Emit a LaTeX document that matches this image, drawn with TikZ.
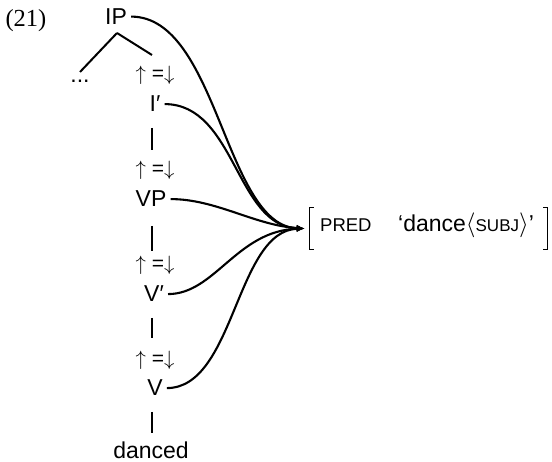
\documentclass[tikz,border=0pt]{standalone}
\usepackage{fontspec}
\setsansfont{Liberation Sans}
\newfontfamily\numfont{Liberation Serif}
\usetikzlibrary{arrows.meta}
\begin{document}
\begin{tikzpicture}[x=1pt,y=-1pt,
  lab/.style={font=\sffamily\fontsize{23}{27}\selectfont, inner sep=0pt, anchor=base},
  eqn/.style={font=\sffamily\fontsize{21}{24}\selectfont, inner sep=0pt, anchor=base},
  bar/.style={line width=2.6pt},
  branch/.style={line width=2pt},
  link/.style={line width=2.1pt, shorten <=4pt, -{Latex[length=8pt,width=6.5pt]}},
  brk/.style={line width=0.9pt}
]
\useasboundingbox (0,0) rectangle (552,462);
% example number
\node[font=\numfont\fontsize{24.5}{28}\selectfont, inner sep=0pt, anchor=base] (num) at (26,27) {(21)};
% tree
\node[lab] (IP) at (116,24.5) {IP};
\coordinate (apex) at (117,33);
\coordinate (lb) at (80,72);
\coordinate (rb) at (152,55);
\draw[branch] (apex) -- (lb);
\draw[branch] (apex) -- (rb);
\node[lab] (dots) at (80,83) {...};
\newcommand{\eqann}{$\uparrow$\;=$\downarrow$}
\node[eqn] (eq1) at (155,81) {\eqann};
\node[lab] (I1) at (155,112) {I′};
\coordinate (b1t) at (152,128); \coordinate (b1b) at (152,150);
\draw[bar] (b1t) -- (b1b);
\node[eqn] (eq2) at (155,176) {\eqann};
\node[lab] (VP) at (151,207) {VP};
\coordinate (b2t) at (152,226); \coordinate (b2b) at (152,251);
\draw[bar] (b2t) -- (b2b);
\node[eqn] (eq3) at (155,271) {\eqann};
\node[lab] (V1) at (154,302) {V′};
\coordinate (b3t) at (152,318); \coordinate (b3b) at (152,338);
\draw[bar] (b3t) -- (b3b);
\node[eqn] (eq4) at (155,366) {\eqann};
\node[lab] (V) at (155,396) {V};
\coordinate (b4t) at (152,412); \coordinate (b4b) at (152,433);
\draw[bar] (b4t) -- (b4b);
\node[lab] (danced) at (151,458) {danced};
% f-structure
\node[minimum width=244pt, minimum height=41pt, inner sep=0pt] (fs) at (427,228.5) {};
\node[font=\sffamily\fontsize{18.5}{21}\selectfont, inner sep=0pt, anchor=base west] (pred) at (320,232) {PRED};
\node[font=\sffamily\fontsize{23}{27}\selectfont, inner sep=0pt, anchor=base west] (val) at (398,232) {‘dance$\langle${\fontsize{17}{20}\selectfont SUBJ}$\rangle$’};
\draw[brk] ([xshift=9pt]fs.north west) -- ([xshift=5pt]fs.north west) -- ([xshift=5pt]fs.south west) -- ([xshift=9pt]fs.south west);
\draw[brk] ([xshift=-6pt]fs.north east) -- ([xshift=-2pt]fs.north east) -- ([xshift=-2pt]fs.south east) -- ([xshift=-6pt]fs.south east);
% links
\draw[link] (IP.east) .. controls +(91,0) and +(-80,-2) .. (fs.west);
\draw[link] (I1.east) .. controls +(75,0) and +(-69,-2) .. (fs.west);
\draw[link] (VP.east) .. controls +(50,0) and +(-50,-3) .. (fs.west);
\draw[link] (V1.east) .. controls +(51,0) and +(-68,2) .. (fs.west);
\draw[link] (V.east) .. controls +(72,0) and +(-69,2) .. (fs.west);
\end{tikzpicture}
\end{document}
